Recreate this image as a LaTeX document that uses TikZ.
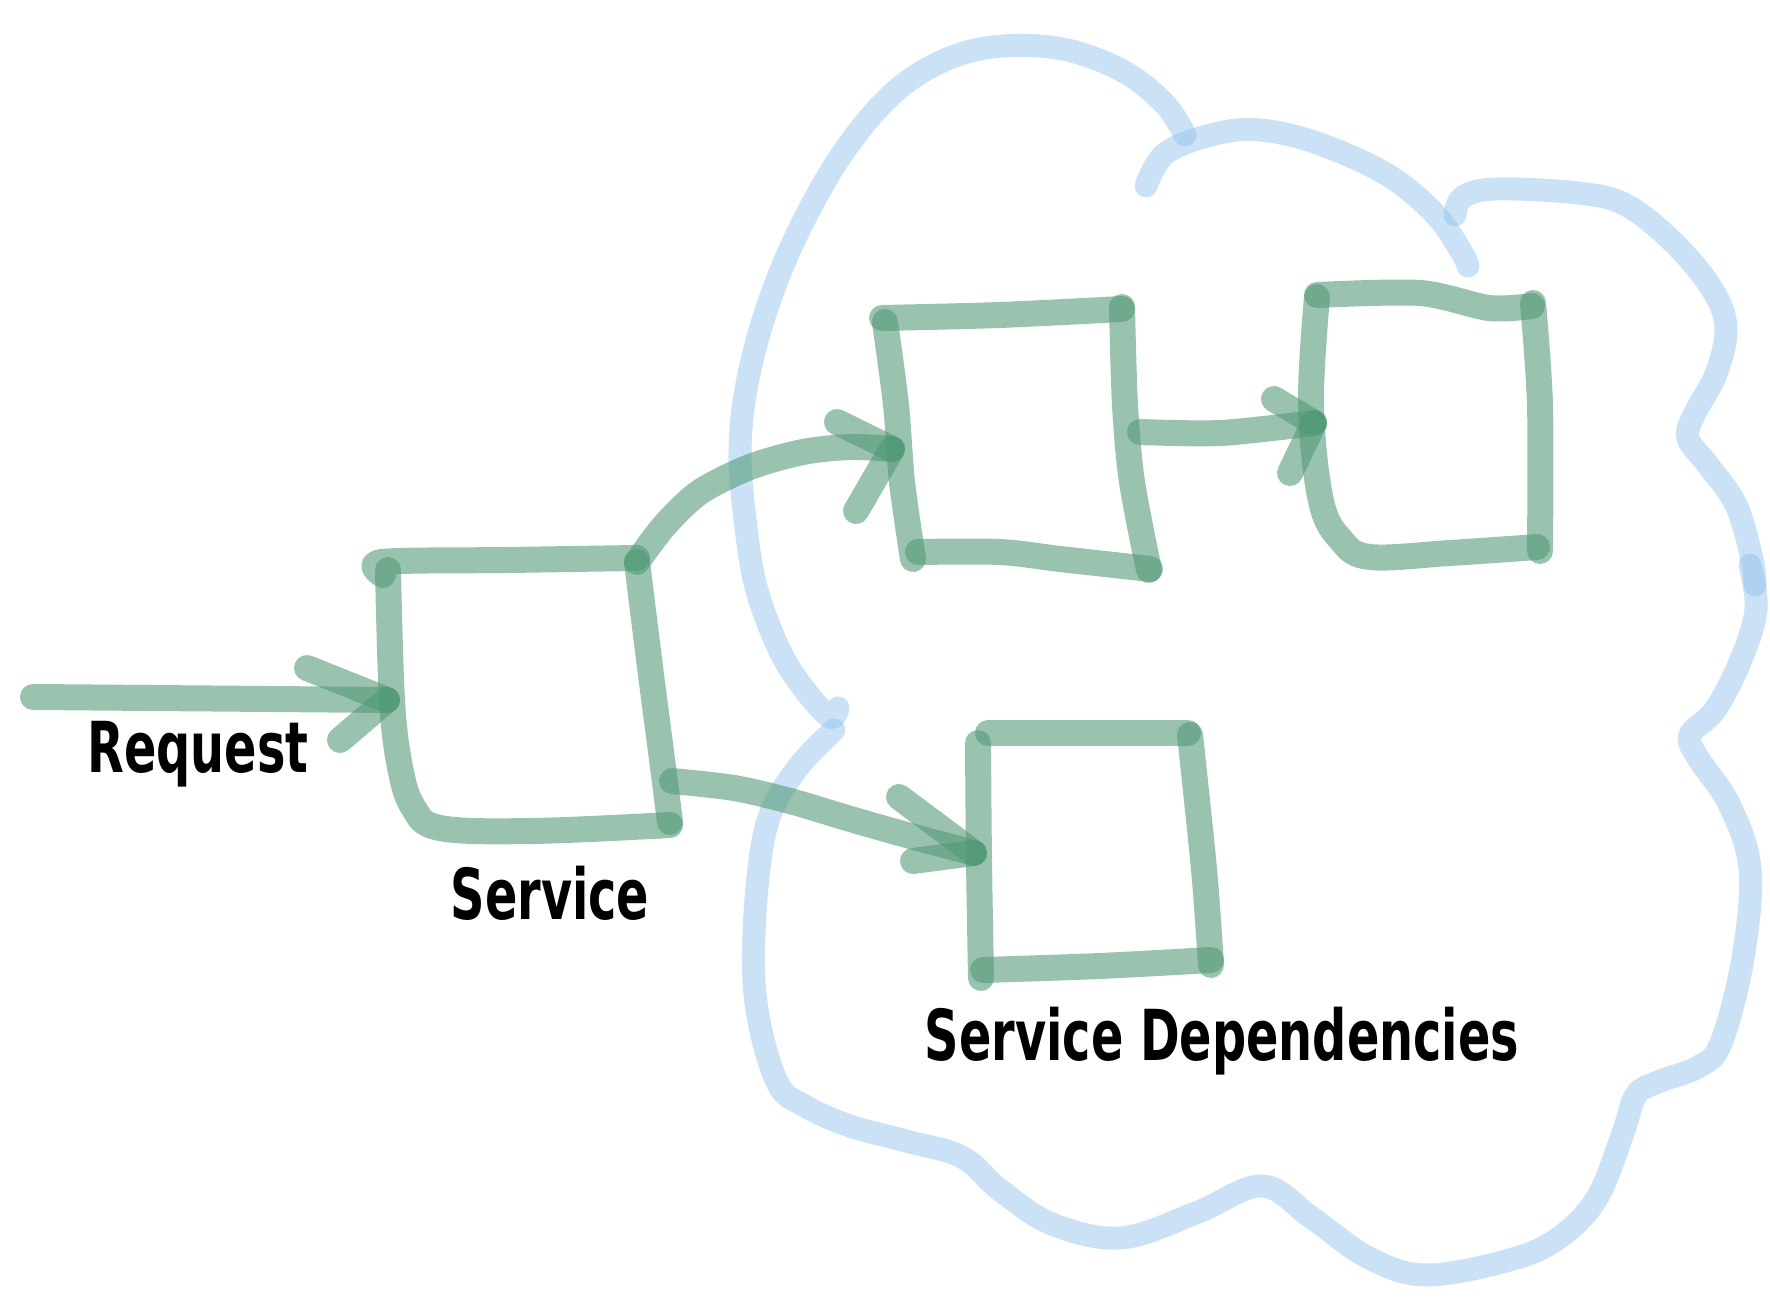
\documentclass[tikz,border=0pt]{standalone}
\usepackage{fontspec}
\newfontfamily\handfont{DejaVu Sans}[FakeStretch=0.68]
\usetikzlibrary{calc}
\definecolor{gbase}{RGB}{80,152,118}
\definecolor{bbase}{RGB}{140,190,235}
\tikzset{
  gstroke/.style={draw=gbase, draw opacity=0.58, line width=2.6mm, line cap=round, line join=round},
  bstroke/.style={draw=bbase, draw opacity=0.45, line width=2.3mm, line cap=round, line join=round},
  lbl/.style={font=\handfont\bfseries\fontsize{20}{24}\selectfont, text=black, inner sep=0pt, anchor=base},
}
\begin{document}
\begin{tikzpicture}[x=0.1mm,y=-0.1mm]
\useasboundingbox (0,0) rectangle (1770,1299);

% ---------- cloud ----------
\draw[bstroke] plot[smooth,tension=0.6] coordinates {(838,708) (830,717) (804,689) (779,649) (756,587) (745,519) (740,452) (747,384) (768,305) (801,226) (847,147) (903,85) (971,51) (1050,47) (1117,68) (1163,102) (1185,135)};
\draw[bstroke] plot[smooth,tension=0.6] coordinates {(1146,186) (1166,153) (1215,134) (1260,130) (1317,143) (1386,174) (1434,213) (1461,251) (1468,266)};
\draw[bstroke] plot[smooth,tension=0.6] coordinates {(1455,215) (1463,197) (1496,189) (1578,193) (1626,205) (1674,243) (1712,289) (1726,328) (1716,374) (1695,413) (1688,438) (1708,465) (1736,505) (1752,559) (1755,585)};
\draw[bstroke] plot[smooth,tension=0.6] coordinates {(1750,565) (1756,610) (1740,662) (1715,710) (1690,735) (1698,758) (1729,804) (1750,869) (1743,958) (1721,1043) (1698,1067) (1658,1082) (1636,1095) (1623,1133) (1597,1198) (1560,1237) (1513,1259) (1427,1275) (1369,1258) (1312,1218) (1262,1186) (1196,1213) (1121,1238) (1052,1224) (1000,1190) (962,1157) (906,1141) (850,1126) (805,1106) (777,1082) (756,1003) (755,914) (767,824) (796,770) (834,730)};

% ---------- connector end points ----------
\coordinate (reqS) at (33,697);
\coordinate (svcIn) at (387,700);
\coordinate (svcTR) at (637,562);
\coordinate (midIn) at (892,449);
\coordinate (midOut) at (1140,432);
\coordinate (rgtIn) at (1314,423);
\coordinate (svcR) at (672,781);
\coordinate (botIn) at (974,853);

% ---------- Service box ----------
\draw[gstroke] plot[smooth] coordinates {(383,575) (382,562) (510,560) (637,558)};
\draw[gstroke] plot[smooth] coordinates {(637,562) (650,667) (663,767) (670,822)};
\draw[gstroke] plot[smooth,tension=0.6] coordinates {(388,570) (392,700) (400,767) (413,807) (440,828) (533,831) (670,825)};

% ---------- top middle box ----------
\draw[gstroke] plot[smooth] coordinates {(882,318) (1000,315) (1122,309)};
\draw[gstroke] plot[smooth] coordinates {(1122,307) (1125,405) (1132,482) (1149,570)};
\draw[gstroke] plot[smooth] coordinates {(885,322) (896,405) (902,482) (913,559)};
\draw[gstroke] plot[smooth] coordinates {(918,552) (1000,552) (1060,559) (1150,569)};

% ---------- top right box ----------
\draw[gstroke] plot[smooth] coordinates {(1317,295) (1420,293) (1489,308) (1532,306)};
\draw[gstroke] plot[smooth] coordinates {(1533,303) (1540,405) (1540,551)};
\draw[gstroke] plot[smooth,tension=0.6] coordinates {(1317,297) (1311,405) (1321,501) (1341,540) (1370,557) (1450,553) (1537,547)};

% ---------- bottom box ----------
\draw[gstroke] (988,733) -- (1188,733);
\draw[gstroke] plot[smooth] coordinates {(978,743) (979,860) (981,978)};
\draw[gstroke] plot[smooth] coordinates {(1190,735) (1204,869) (1211,965)};
\draw[gstroke] plot[smooth] coordinates {(983,970) (1100,966) (1211,960)};

% ---------- connectors ----------
% Request -> Service
\draw[gstroke] (reqS) -- (svcIn);
\draw[gstroke] ($(svcIn)+(-80,-32)$) -- (svcIn);
\draw[gstroke] ($(svcIn)+(-47,40)$) -- (svcIn);
% Service -> top middle
\draw[gstroke] plot[smooth] coordinates {(svcTR) (665,525) (700,492) (750,467) (803,452) (850,447) (midIn)};
\draw[gstroke] ($(midIn)+(-55,-27)$) -- (midIn);
\draw[gstroke] ($(midIn)+(-36,62)$) -- (midIn);
% top middle -> top right
\draw[gstroke] plot[smooth] coordinates {(midOut) (1221,433) (rgtIn)};
\draw[gstroke] ($(rgtIn)+(-40,-24)$) -- (rgtIn);
\draw[gstroke] ($(rgtIn)+(-24,50)$) -- (rgtIn);
% Service -> bottom
\draw[gstroke] plot[smooth] coordinates {(svcR) (734,788) (790,801) (847,818) (903,834) (botIn)};
\draw[gstroke] ($(botIn)+(-75,-56)$) -- (botIn);
\draw[gstroke] ($(botIn)+(-61,8)$) -- (botIn);

% ---------- labels ----------
\node[lbl] (lreq) at (198,773) {Request};
\node[lbl] (lsvc) at (550,920) {Service};
\node[lbl] (ldep) at (1222,1061) {Service Dependencies};
\end{tikzpicture}
\end{document}
